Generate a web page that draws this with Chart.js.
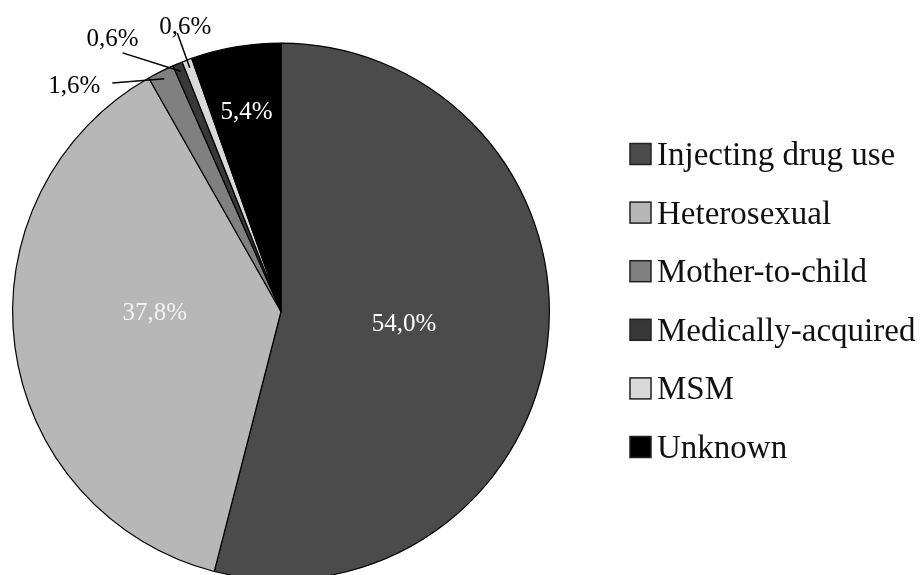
<!DOCTYPE html>
<html>
<head>
<meta charset="utf-8">
<script src="https://cdn.jsdelivr.net/npm/chart.js@4.4.1/dist/chart.umd.min.js"></script>
<style>
  html, body { margin: 0; padding: 0; background: #fff; overflow: hidden; }
  #wrap { position: absolute; left: 0; top: 0; width: 920px; height: 590px; }
</style>
</head>
<body>
<div id="wrap"><canvas id="pieChart" width="920" height="590"></canvas></div>
<script>
// Données
const categories = ['Injecting drug use', 'Heterosexual', 'Mother-to-child', 'Medically-acquired', 'MSM', 'Unknown'];
const shares = [54.0, 37.8, 1.6, 0.6, 0.6, 5.4];
const sliceColors = ['#4b4b4b', '#b7b7b7', '#808080', '#383838', '#d9d9d9', '#000000'];

const FONT = '"Liberation Serif", "Times New Roman", serif';
const deg = Math.PI / 180;

// Placement des étiquettes (par index de tranche)
const insideLabels = {
    0: { r: 0.46, da: -2.1, color: '#ffffff' },
    1: { r: 0.47, da: 7.6, color: '#f2f2f2' },
    5: { r: 0.76, da: 0, color: '#ffffff' }
};
const outsideLabels = {
    2: { r: 1.058, da: -9.8, align: 'right', dx: -12, dy: 10 },
    3: { r: 1.13, da: -8.8, align: 'center', dx: -10, dy: -7 },
    4: { r: 1.107, da: 0.1, align: 'center', dx: 8, dy: 1 }
};

function formatPct(v) {
    return v.toFixed(1).replace('.', ',') + '%';
}

const labelPlugin = {
    id: 'pieLabels',
    afterDatasetsDraw(chart) {
        const ctx = chart.ctx;
        const arcs = chart.getDatasetMeta(0).data;
        ctx.save();
        ctx.font = '25px ' + FONT;
        ctx.textBaseline = 'alphabetic';
        arcs.forEach((arc, i) => {
            const mid = (arc.startAngle + arc.endAngle) / 2;
            const R = arc.outerRadius;
            if (insideLabels[i]) {
                const p = insideLabels[i];
                const a = mid + p.da * deg;
                ctx.fillStyle = p.color;
                ctx.textAlign = 'center';
                ctx.fillText(formatPct(shares[i]), arc.x + Math.cos(a) * R * p.r, arc.y + Math.sin(a) * R * p.r + 9);
            }
            if (outsideLabels[i]) {
                const p = outsideLabels[i];
                const a = mid + p.da * deg;
                const sx = arc.x + Math.cos(a) * R * p.r;
                const sy = arc.y + Math.sin(a) * R * p.r;
                const ex = arc.x + Math.cos(mid) * R * 0.97;
                const ey = arc.y + Math.sin(mid) * R * 0.97;
                ctx.strokeStyle = '#000';
                ctx.lineWidth = 1.5;
                ctx.beginPath();
                ctx.moveTo(sx, sy);
                ctx.lineTo(ex, ey);
                ctx.stroke();
                ctx.fillStyle = '#000';
                ctx.textAlign = p.align;
                ctx.fillText(formatPct(shares[i]), sx + p.dx, sy + p.dy);
            }
        });
        ctx.restore();
    }
};

// Légende dessinée à droite
const legendPlugin = {
    id: 'sideLegend',
    afterDraw(chart) {
        const ctx = chart.ctx;
        ctx.save();
        ctx.font = '33px ' + FONT;
        ctx.textAlign = 'left';
        ctx.textBaseline = 'alphabetic';
        categories.forEach((name, i) => {
            const cy = 154 + i * 58.6;
            ctx.fillStyle = sliceColors[i];
            ctx.fillRect(630, cy - 10.5, 21, 21);
            ctx.strokeStyle = '#222';
            ctx.lineWidth = 1.5;
            ctx.strokeRect(630, cy - 10.5, 21, 21);
            ctx.fillStyle = '#111';
            ctx.fillText(name, 657, cy + 11);
        });
        ctx.restore();
    }
};

new Chart(document.getElementById('pieChart'), {
    type: 'pie',
    data: {
        labels: categories,
        datasets: [{
            data: shares,
            backgroundColor: sliceColors,
            borderColor: '#000',
            borderWidth: 1.2
        }]
    },
    options: {
        responsive: false,
        animation: false,
        layout: {
            padding: { left: 12, right: 370, top: 42, bottom: 9 }
        },
        plugins: {
            legend: { display: false },
            tooltip: { enabled: false }
        }
    },
    plugins: [labelPlugin, legendPlugin]
});
</script>
</body>
</html>
